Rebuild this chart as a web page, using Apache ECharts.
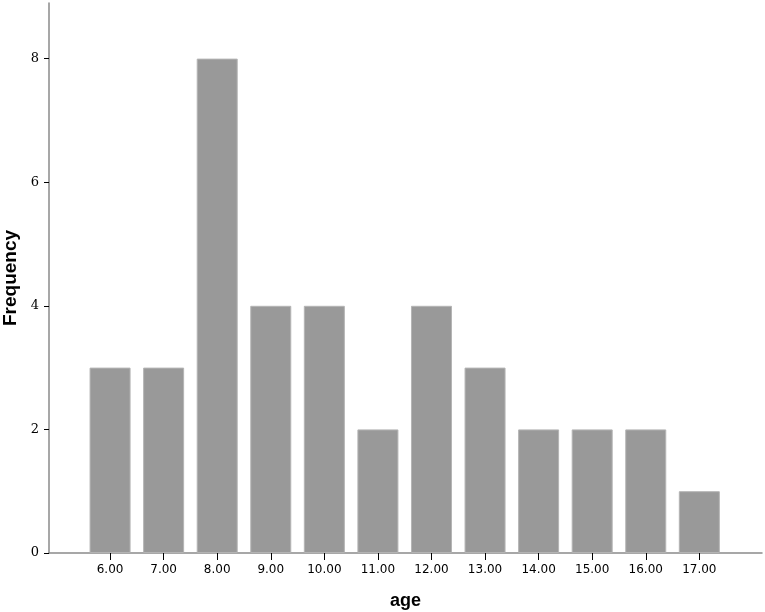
<!DOCTYPE html>
<html>
<head>
<meta charset="utf-8">
<script src="https://cdn.jsdelivr.net/npm/echarts@6/dist/echarts.min.js"></script>
<style>html,body{margin:0;padding:0;background:#fff}#c{width:765px;height:612px}</style>
</head>
<body>
<div id="c"></div>
<script>
var ages = [6, 7, 8, 9, 10, 11, 12, 13, 14, 15, 16, 17];
var frequencies = [3, 3, 8, 4, 4, 2, 4, 3, 2, 2, 2, 1];
var yTicks = [0, 2, 4, 6, 8];

var chart = echarts.init(document.getElementById('c'), null, {renderer: 'canvas'});
var pairs = ages.map(function (a, i) { return [a, frequencies[i]]; });

chart.setOption({
  animation: false,
  backgroundColor: '#ffffff',
  grid: {left: 49, right: 3, top: 3, bottom: 59, containLabel: false, outerBoundsMode: 'none'},
  xAxis: {
    type: 'value',
    min: 4.86,
    max: 18.17,
    name: 'age',
    nameLocation: 'middle',
    nameGap: 39,
    nameTextStyle: {fontFamily: 'Liberation Sans, Arial, sans-serif', fontWeight: 'bold', fontSize: 18, color: '#000'},
    axisLine: {show: true, onZero: false, lineStyle: {color: '#8a8a8a', width: 1.5}},
    axisTick: {show: true, customValues: ages, length: 7, lineStyle: {color: '#000', width: 1}},
    axisLabel: {customValues: ages, margin: 11, color: '#000', fontSize: 12,
      fontFamily: 'DejaVu Sans, sans-serif',
      formatter: function (v) { return Number(v).toFixed(2); }},
    splitLine: {show: false}
  },
  yAxis: {
    type: 'value',
    min: 0,
    max: 8.9,
    interval: 2,
    name: 'Frequency',
    nameLocation: 'middle',
    nameGap: 26,
    nameTextStyle: {fontFamily: 'Liberation Sans, Arial, sans-serif', fontWeight: 'bold', fontSize: 19, color: '#000'},
    axisLine: {show: true, lineStyle: {color: '#8a8a8a', width: 1.5}},
    axisTick: {show: true, customValues: yTicks, length: 5, lineStyle: {color: '#000', width: 1}},
    axisLabel: {customValues: yTicks, margin: 10, color: '#000', fontSize: 13,
      fontFamily: 'DejaVu Serif, serif'},
    splitLine: {show: false}
  },
  series: [{
    type: 'bar',
    data: pairs,
    barWidth: 41,
    itemStyle: {color: '#999999', borderColor: '#b4b4b4', borderWidth: 1}
  }]
});
</script>
</body>
</html>
